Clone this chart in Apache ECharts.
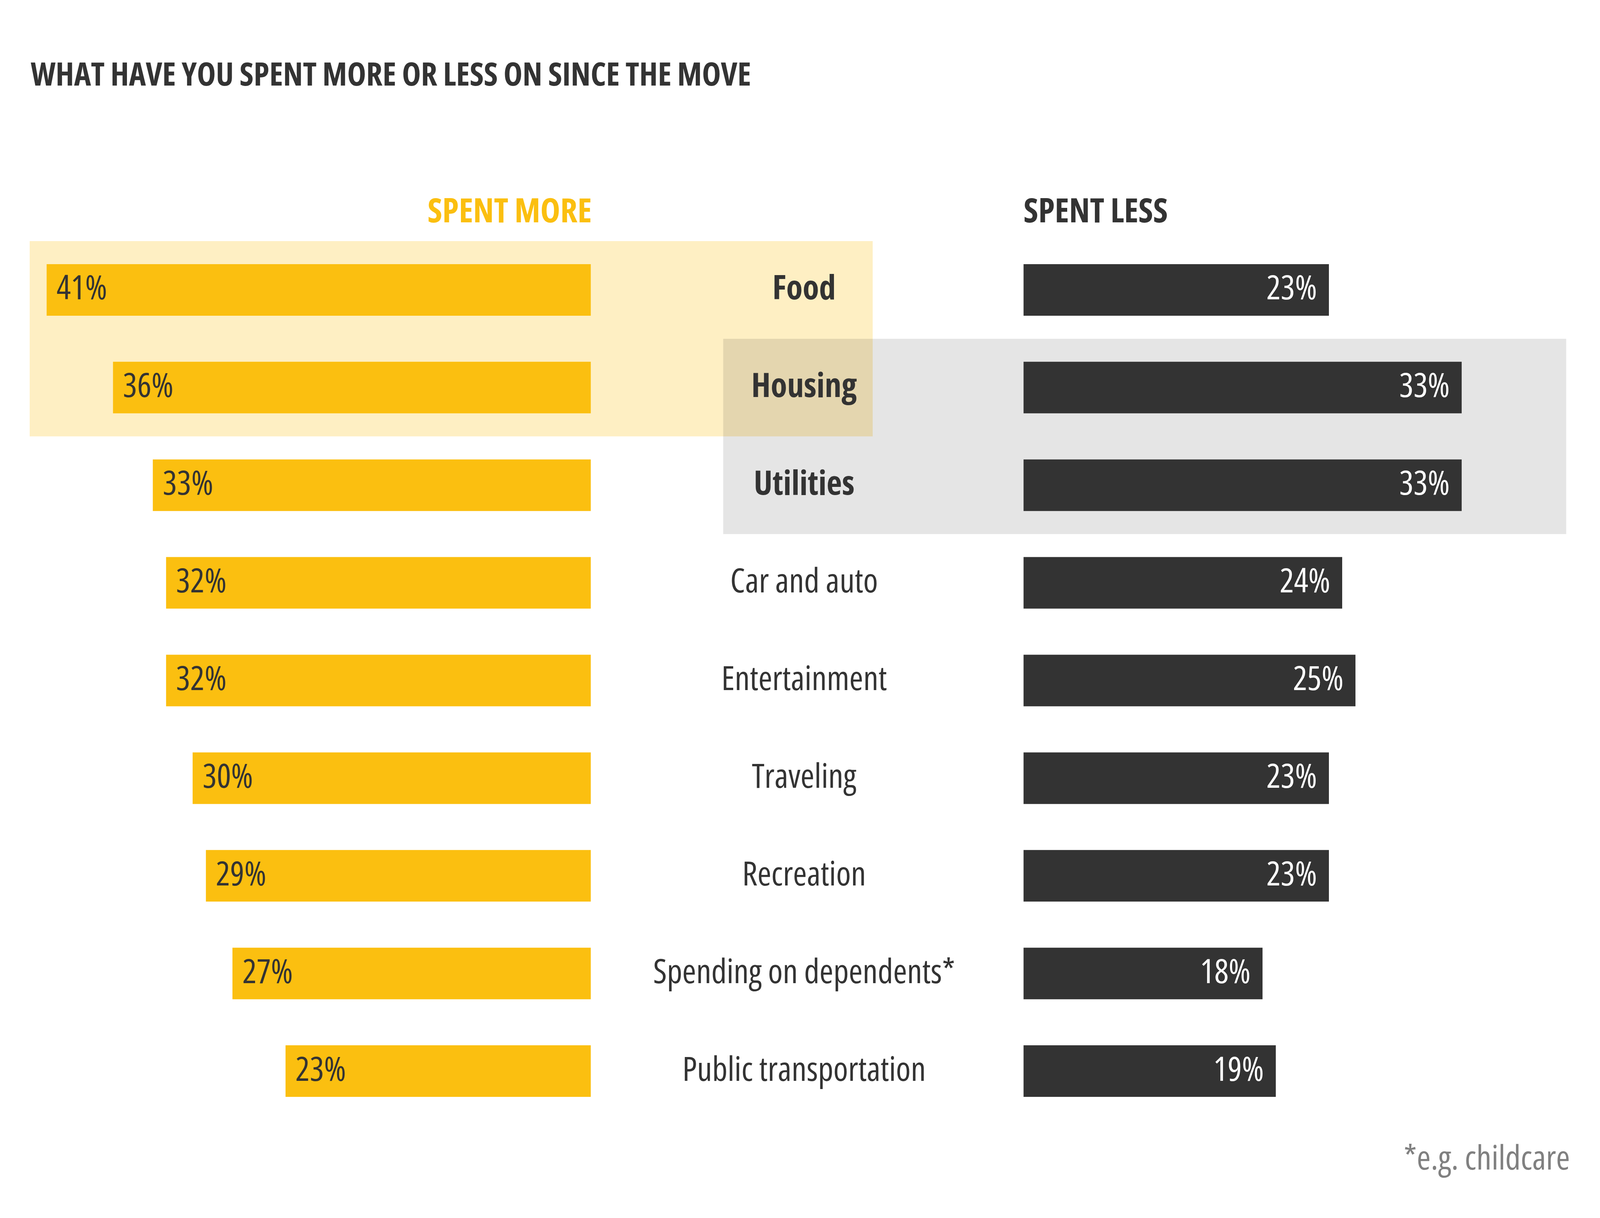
<!DOCTYPE html>
<html>
<head>
<meta charset="utf-8">
<script src="https://cdn.jsdelivr.net/npm/echarts@6/dist/echarts.min.js"></script>
<style>html,body{margin:0;padding:0;background:#fff;overflow:hidden;}#c{width:100vw;height:100vh;}</style>
</head>
<body>
<div id="c"></div>
<script>
const categories = ['Food','Housing','Utilities','Car and auto','Entertainment','Traveling','Recreation','Spending on dependents*','Public transportation'];
const spentMore = [41,36,33,32,32,30,29,27,23];
const spentLess = [23,33,33,24,25,23,23,18,19];
const highlightMore = ['Food','Housing'];
const highlightLess = ['Housing','Utilities'];
const boldCats = ['Food','Housing','Utilities'];

const FAMILY = '"Open Sans","Roboto Condensed",sans-serif';
const STRETCH = 'condensed';
const YELLOW = '#FBBF10';
const DARK = '#333333';

const el = document.getElementById('c');
const chart = echarts.init(el, null, {renderer: 'canvas'});
const W = chart.getWidth(), H = chart.getHeight();
const sx = W / 4688, sy = H / 3117;
const FS = Math.round(86 * sy);
const FS_TITLE = Math.round(82 * sy);

const option = {
  backgroundColor: '#ffffff',
  animation: false,
  grid: [
    {left: 20 * sx, width: 1711 * sx, top: 617 * sy, bottom: 251 * sy},
    {left: 2999 * sx, width: 1556 * sx, top: 617 * sy, bottom: 251 * sy}
  ],
  xAxis: [
    {gridIndex: 0, type: 'value', min: 0, max: 44, inverse: true, show: false},
    {gridIndex: 1, type: 'value', min: 0, max: 40, show: false}
  ],
  yAxis: [
    {gridIndex: 0, type: 'category', data: categories, inverse: true, show: false},
    {gridIndex: 1, type: 'category', data: categories, inverse: true, z: 5,
     axisLine: {show: false}, axisTick: {show: false}, splitLine: {show: false},
     axisLabel: {
       margin: 643 * sx, align: 'center',
       formatter: function (v) { return boldCats.indexOf(v) >= 0 ? '{b|' + v + '}' : '{n|' + v + '}'; },
       rich: {
         b: {fontFamily: FAMILY, fontStyle: STRETCH, fontSize: FS, fontWeight: 'bold', color: DARK},
         n: {fontFamily: FAMILY, fontStyle: STRETCH, fontSize: FS, fontWeight: 'normal', color: DARK}
       }
     }}
  ],
  series: [
    {type: 'bar', xAxisIndex: 0, yAxisIndex: 0, data: spentMore, barWidth: 132 * sy,
     itemStyle: {color: YELLOW}, z: 3,
     label: {show: true, position: 'insideLeft', distance: 29 * sx, color: DARK,
             fontFamily: FAMILY, fontStyle: STRETCH, fontSize: FS, formatter: '{c}%'}},
    {type: 'bar', xAxisIndex: 1, yAxisIndex: 1, data: spentLess, barWidth: 132 * sy,
     itemStyle: {color: DARK}, z: 3,
     label: {show: true, position: 'insideRight', distance: 35 * sx, color: '#ffffff',
             fontFamily: FAMILY, fontStyle: STRETCH, fontSize: FS, formatter: '{c}%'}}
  ]
};
chart.setOption(option);

function bandEdges(cats) {
  const ys = cats.map(c => chart.convertToPixel({yAxisIndex: 1}, c));
  const half = (chart.convertToPixel({yAxisIndex: 1}, categories[1]) - chart.convertToPixel({yAxisIndex: 1}, categories[0])) / 2;
  return [Math.min.apply(null, ys) - half, Math.max.apply(null, ys) + half];
}
const ym = bandEdges(highlightMore);
const yl = bandEdges(highlightLess);
const font = (w, s) => STRETCH + ' ' + w + ' ' + s + 'px ' + FAMILY;

chart.setOption({
  graphic: [
    {type: 'rect', z: -1, shape: {x: 87 * sx, y: ym[0], width: 2470 * sx, height: ym[1] - ym[0]},
     style: {fill: 'rgba(251,191,16,0.25)'}},
    {type: 'rect', z: -1, shape: {x: 2119 * sx, y: yl[0], width: 2470 * sx, height: yl[1] - yl[0]},
     style: {fill: 'rgba(0,0,0,0.1)'}},
    {type: 'text', x: 90 * sx, y: 196 * sy, style: {text: 'WHAT HAVE YOU SPENT MORE OR LESS ON SINCE THE MOVE',
      fill: DARK, font: font('bold', FS_TITLE), align: 'left', verticalAlign: 'middle'}},
    {type: 'text', x: 1734 * sx, y: 544 * sy, style: {text: 'SPENT MORE',
      fill: YELLOW, font: font('bold', FS), align: 'right', verticalAlign: 'middle'}},
    {type: 'text', x: 2999 * sx, y: 544 * sy, style: {text: 'SPENT LESS',
      fill: DARK, font: font('bold', FS), align: 'left', verticalAlign: 'middle'}},
    {type: 'text', x: 4600 * sx, y: 2968 * sy, style: {text: '*e.g. childcare',
      fill: '#808080', font: font('normal', FS), align: 'right', verticalAlign: 'middle'}}
  ]
});
</script>
</body>
</html>
